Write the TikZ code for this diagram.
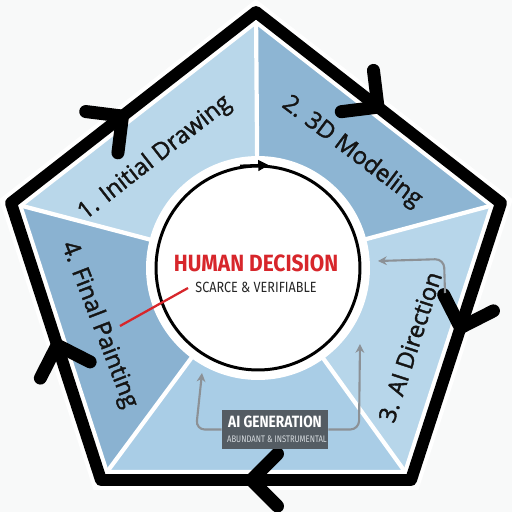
\documentclass[tikz,border=0pt]{standalone}
\usepackage{fontspec}
\setmainfont{Open Sans}
\newfontfamily\lblfont[FakeBold=1.6]{Open Sans}
\newfontfamily\condfont{Fira Sans}
\usetikzlibrary{calc,arrows.meta}
\definecolor{bg}{HTML}{F8F9F9}
\definecolor{segA}{HTML}{B9D7EA}
\definecolor{segB}{HTML}{8DB5D3}
\definecolor{segC}{HTML}{B7D6EA}
\definecolor{segD}{HTML}{A9CDE6}
\definecolor{segE}{HTML}{8AB2D1}
\definecolor{hred}{HTML}{D7262B}
\definecolor{boxgray}{HTML}{545C63}
\definecolor{arrgray}{HTML}{8C9196}
\definecolor{subgray}{HTML}{D5DADE}
\begin{document}
\begin{tikzpicture}[x=0.02cm,y=-0.02cm,
  chev/.style={line width=7.4pt,line cap=round,line join=round,black},
  sep/.style={white,line width=2.4pt},
  lbl/.style={font=\lblfont\fontsize{13.5}{15}\selectfont,text=black!92,inner sep=0pt},
  garrow/.style={arrgray,line width=1.2pt,rounded corners=5pt,-{Stealth[length=5pt,width=5pt]}},
  plain/.style={inner sep=0pt}
]
\fill[bg] (0,0) rectangle (512,512);
\useasboundingbox (0,0) rectangle (512,512);
\coordinate (T) at (256,12);
\coordinate (R) at (501,203);
\coordinate (BR) at (411,480);
\coordinate (BL) at (101,480);
\coordinate (L) at (11,203);
\coordinate (C) at (258,268);
% segments
\fill[segA] (C)--(L)--(T)--cycle;
\fill[segB] (C)--(T)--(R)--cycle;
\fill[segC] (C)--(R)--(BR)--cycle;
\fill[segD] (C)--(BR)--(BL)--cycle;
\fill[segE] (C)--(BL)--(L)--cycle;
\foreach \v in {T,R,BR,BL,L} \draw[sep] (C)--(\v);
\draw[white,line width=11.5pt,line join=miter] (T)--(R)--(BR)--(BL)--(L)--cycle;
\fill[white] (C) circle [radius=2.24cm];
% outline
\draw[line width=6.8pt,line join=round] (T)--(R)--(BR)--(BL)--(L)--cycle;
% chevrons
\coordinate (k1) at ($(L)!0.455!(T)$);
\coordinate (k2) at ($(T)!0.498!(R)$);
\coordinate (k3) at ($(R)!0.45!(BR)$);
\coordinate (k4) at ($(BR)!0.515!(BL)$);
\coordinate (k5) at ($(BL)!0.487!(L)$);
\draw[chev] ($(k1)!0.74cm!45:(L)$) -- (k1) -- ($(k1)!0.74cm!-45:(L)$);
\draw[chev] ($(k2)!0.74cm!45:(T)$) -- (k2) -- ($(k2)!0.74cm!-45:(T)$);
\draw[chev] ($(k3)!0.74cm!45:(R)$) -- (k3) -- ($(k3)!0.74cm!-45:(R)$);
\draw[chev] ($(k4)!0.74cm!45:(BR)$) -- (k4) -- ($(k4)!0.74cm!-45:(BR)$);
\draw[chev] ($(k5)!0.74cm!45:(BL)$) -- (k5) -- ($(k5)!0.74cm!-45:(BL)$);
% center circle
\node[circle,draw,line width=1.7pt,fill=white,minimum size=4.08cm,inner sep=0pt] (hc) at (C) {};
\draw[line width=1.7pt,-{Triangle[length=6pt,width=6pt]}] (hc.100) -- (hc.84);
\node[plain,text=hred] (title) at (256,263.5) {\resizebox{93.5pt}{9.5pt}{\condfont\bfseries HUMAN DECISION}};
\node[plain,text=black!85] (sub) at (256,287) {\resizebox{69pt}{5.9pt}{\condfont SCARCE \& VERIFIABLE}};
\coordinate (rl) at (120,326);
\draw[hred,line width=1.3pt] (rl) -- (188,288);
% labels
\node[lbl,rotate=38] (l1) at (155,158) {1. Initial Drawing};
\node[lbl,rotate=-37] (l2) at (352,152) {2. 3D Modeling};
\node[lbl,rotate=72] (l3) at (410,347) {3. AI Direction};
\node[lbl,rotate=-69] (l4) at (99,325) {4. Final Painting};
% AI generation box
\node[fill=boxgray,inner sep=0pt,minimum width=2.12cm,minimum height=0.78cm] (gen) at (275,429.5) {};
\node[plain,text=white] (gt) at (275,422) {\resizebox{53.3pt}{6.6pt}{\condfont\bfseries AI GENERATION}};
\node[plain,text=subgray] (gs) at (277,439) {\resizebox{56.7pt}{3.8pt}{\condfont ABUNDANT \& INSTRUMENTAL}};
\coordinate (a1) at (202,373);
\coordinate (a2) at (360,344);
\coordinate (a3) at (378,261);
\draw[garrow] (gen.west) -- (196,429.5) -- (a1);
\draw[garrow] (gen.east) -- (359,429.5) -- (a2);
\draw[garrow] (445,293) -- (444,259) -- (a3);
\end{tikzpicture}
\end{document}
